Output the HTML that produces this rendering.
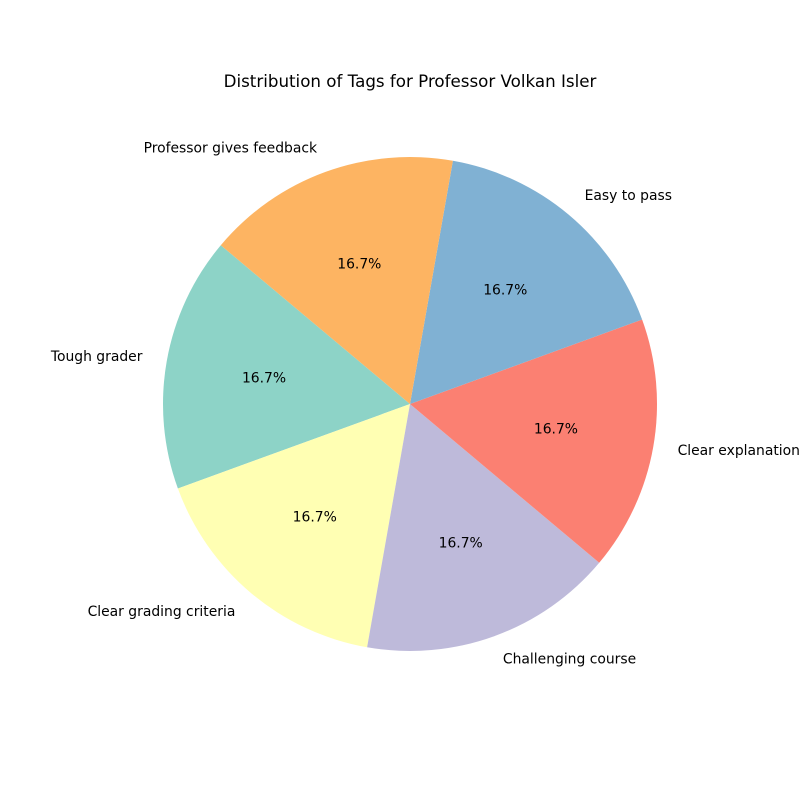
<!DOCTYPE html>
<html><head><meta charset="utf-8"><style>
body{margin:0;background:#fff;}
svg text{font-family:"DejaVu Sans","Liberation Sans",sans-serif;}
</style></head><body>
<svg id="chart" width="800" height="800" viewBox="0 0 800 800">
<rect width="800" height="800" fill="#fff"/>
<text x="410" y="87" text-anchor="middle" font-size="16.7">Distribution of Tags for Professor Volkan Isler</text>
<g id="slices"></g>
</svg>
<script>
const categories = ["Tough grader","Clear grading criteria","Challenging course","Clear explanation","Easy to pass","Professor gives feedback"];
const values = [1,1,1,1,1,1];
const colors = ["#8dd3c7","#ffffb3","#bebada","#fb8072","#80b1d3","#fdb462"];
const cx=410, cy=404, r=247, startAngle=140;
const g=document.getElementById('slices');
const ns="http://www.w3.org/2000/svg";
const total=values.reduce((a,b)=>a+b,0);
let a0=startAngle;
function pt(deg,rad){const t=deg*Math.PI/180;return [cx+rad*Math.cos(t), cy-rad*Math.sin(t)];}
values.forEach((v,i)=>{
  const sweep=v/total*360, a1=a0+sweep;
  const p0=pt(a0,r), p1=pt(a1,r);
  const path=document.createElementNS(ns,'path');
  path.setAttribute('d',`M${cx},${cy} L${p0[0]},${p0[1]} A${r},${r} 0 ${sweep>180?1:0} 0 ${p1[0]},${p1[1]} Z`);
  path.setAttribute('fill',colors[i]);
  
  
  g.appendChild(path);
  const mid=(a0+a1)/2;
  const lp=pt(mid,r*1.1);
  const cosm=Math.cos(mid*Math.PI/180);
  const lab=document.createElementNS(ns,'text');
  lab.setAttribute('x',lp[0]);lab.setAttribute('y',lp[1]+4);
  lab.setAttribute('font-size','13.9');
  lab.setAttribute('text-anchor',cosm<0?'end':'start');
  lab.textContent=categories[i];
  
  
  g.appendChild(lab);
  const pp=pt(mid,r*0.6);
  const pc=document.createElementNS(ns,'text');
  pc.setAttribute('x',pp[0]);pc.setAttribute('y',pp[1]+4);
  pc.setAttribute('font-size','13.9');pc.setAttribute('text-anchor','middle');
  pc.textContent=(v/total*100).toFixed(1)+'%';
  
  
  g.appendChild(pc);
  a0=a1;
});
</script>
</body></html>
